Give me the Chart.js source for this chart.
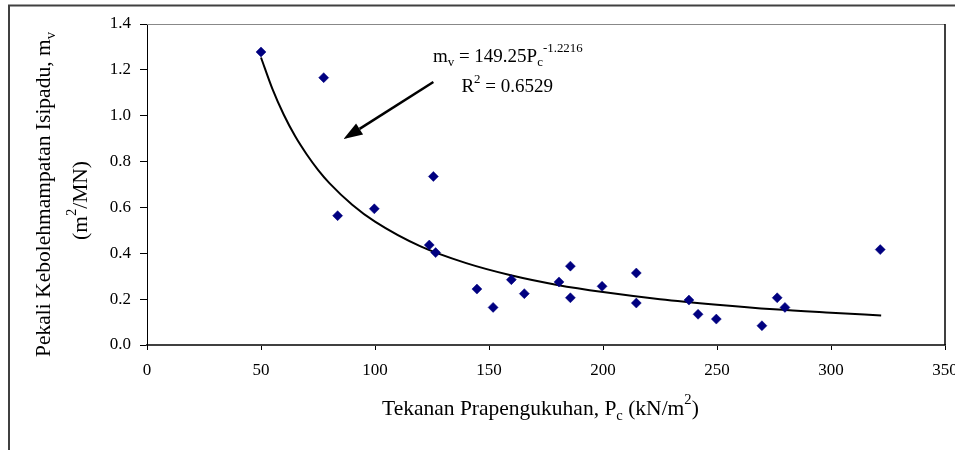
<!DOCTYPE html>
<html>
<head>
<meta charset="utf-8">
<script src="https://cdn.jsdelivr.net/npm/chart.js@4/dist/chart.umd.min.js"></script>
<style>
  body { margin: 0; background: #fff; }
  #wrap { width: 955px; height: 450px; }
</style>
</head>
<body>
<div id="wrap"><canvas id="chrt" width="955" height="450"></canvas></div>
<script>
// data
var pcValues = [50, 77.5, 83.6, 99.7, 123.8, 125.6, 126.6, 144.7, 151.8, 159.8, 165.5, 180.7,
	185.7, 185.7, 199.6, 214.6, 214.6, 237.7, 241.7, 249.7, 269.7, 276.4, 279.8, 321.6];
var mvValues = [1.278, 1.166, 0.564, 0.594, 0.436, 0.735, 0.403, 0.244, 0.164, 0.285, 0.224, 0.275,
	0.344, 0.206, 0.256, 0.314, 0.183, 0.196, 0.134, 0.113, 0.084, 0.206, 0.164, 0.416];

// power trendline
var trendPc = [50, 55, 60, 65, 70, 75, 80, 90, 100, 120, 140, 160, 180, 200, 225, 250, 275, 300, 322];
var trendMv = [1.254, 1.117, 1.004, 0.910, 0.832, 0.764, 0.706, 0.612, 0.538, 0.430, 0.357, 0.303,
	0.262, 0.231, 0.200, 0.176, 0.156, 0.141, 0.129];

var xTicks = [0, 50, 100, 150, 200, 250, 300, 350];
var yTicks = [0, 0.2, 0.4, 0.6, 0.8, 1.0, 1.2, 1.4];

// annotation anchors in data units
var eqPos = { x: 125.4, y: 1.235 };
var r2Pos = { x: 137.9, y: 1.102 };
var arrowFrom = { x: 125.6, y: 1.147 };
var arrowTo = { x: 86.2, y: 0.898 };

var serif = '"Liberation Serif", "Times New Roman", serif';

function drawRuns(ctx, runs, x, y, size) {
	// runs: [text, 0 normal | 1 sub | 2 sup]
	runs.forEach(function (r) {
		var s = r[1] ? size * 0.68 : size;
		ctx.font = s + 'px ' + serif;
		var dy = r[1] === 1 ? size * 0.22 : (r[1] === 2 ? -size * 0.5 : 0);
		ctx.fillText(r[0], x, y + dy);
		x += ctx.measureText(r[0]).width;
	});
	return x;
}

var decor = {
	id: 'decor',
	beforeDraw: function (c) {
		var ctx = c.ctx;
		ctx.save();
		ctx.fillStyle = '#fff';
		ctx.fillRect(0, 0, c.width, c.height);
		ctx.restore();
	},
	afterDraw: function (c) {
		var ctx = c.ctx;
		var a = c.chartArea;
		var xs = c.scales.x, ys = c.scales.y;
		ctx.save();

		// outer frame
		ctx.strokeStyle = '#404040';
		ctx.lineWidth = 2;
		ctx.beginPath();
		ctx.moveTo(9, 450);
		ctx.lineTo(9, 5.5);
		ctx.lineTo(955, 5.5);
		ctx.stroke();

		// plot box top / right
		ctx.strokeStyle = '#888';
		ctx.lineWidth = 1;
		ctx.beginPath();
		ctx.moveTo(a.left, a.top + 0.5);
		ctx.lineTo(a.right, a.top + 0.5);
		ctx.stroke();
		ctx.strokeStyle = '#000';
		ctx.lineWidth = 1.5;
		ctx.beginPath();
		ctx.moveTo(a.right, a.top);
		ctx.lineTo(a.right, a.bottom);
		ctx.stroke();

		ctx.fillStyle = '#000';
		ctx.textBaseline = 'alphabetic';
		ctx.textAlign = 'left';

		// equation + R2
		drawRuns(ctx, [['m', 0], ['v', 1], [' = 149.25P', 0], ['c', 1], ['-1.2216', 2]],
			xs.getPixelForValue(eqPos.x), ys.getPixelForValue(eqPos.y), 19);
		drawRuns(ctx, [['R', 0], ['2', 2], [' = 0.6529', 0]],
			xs.getPixelForValue(r2Pos.x), ys.getPixelForValue(r2Pos.y), 19);

		// arrow
		var x1 = xs.getPixelForValue(arrowFrom.x), y1 = ys.getPixelForValue(arrowFrom.y);
		var x2 = xs.getPixelForValue(arrowTo.x), y2 = ys.getPixelForValue(arrowTo.y);
		var ang = Math.atan2(y2 - y1, x2 - x1);
		var hl = 19, hw = 6.5;
		var bx = x2 - Math.cos(ang) * hl, by = y2 - Math.sin(ang) * hl;
		ctx.strokeStyle = '#000';
		ctx.lineWidth = 2.5;
		ctx.beginPath();
		ctx.moveTo(x1, y1);
		ctx.lineTo(bx, by);
		ctx.stroke();
		ctx.beginPath();
		ctx.moveTo(x2, y2);
		ctx.lineTo(bx + Math.sin(ang) * hw, by - Math.cos(ang) * hw);
		ctx.lineTo(bx - Math.sin(ang) * hw, by + Math.cos(ang) * hw);
		ctx.closePath();
		ctx.fill();

		// x title
		drawRuns(ctx, [['Tekanan Prapengukuhan, P', 0], ['c', 1], [' (kN/m', 0], ['2', 2], [')', 0]], 382, 415, 21.5);

		// y title, two rotated lines
		ctx.save();
		ctx.translate(50, 357);
		ctx.rotate(-Math.PI / 2);
		drawRuns(ctx, [['Pekali Kebolehmampatan Isipadu, m', 0], ['v', 1]], 0, 0, 21.5);
		ctx.restore();
		ctx.save();
		ctx.translate(87, 240);
		ctx.rotate(-Math.PI / 2);
		drawRuns(ctx, [['(m', 0], ['2', 2], ['/MN)', 0]], 0, 0, 21.5);
		ctx.restore();

		ctx.restore();
	}
};

var pts = pcValues.map(function (v, i) { return { x: v, y: mvValues[i] }; });
var trend = trendPc.map(function (v, i) { return { x: v, y: trendMv[i] }; });

new Chart(document.getElementById('chrt').getContext('2d'), {
	type: 'scatter',
	data: {
		datasets: [
			{
				label: 'data',
				data: pts,
				pointStyle: 'rectRot',
				pointRadius: 5,
				pointBackgroundColor: '#000080',
				pointBorderColor: '#000080',
				pointBorderWidth: 0.5,
				order: 0
			},
			{
				label: 'trend',
				data: trend,
				showLine: true,
				borderColor: '#000',
				borderWidth: 2,
				pointRadius: 0,
				cubicInterpolationMode: 'monotone',
				order: 1
			}
		]
	},
	options: {
		responsive: false,
		animation: false,
		layout: { padding: { top: 24, right: 10, left: 0, bottom: 0 } },
		plugins: {
			legend: { display: false },
			tooltip: { enabled: false }
		},
		scales: {
			x: {
				type: 'linear',
				min: 0,
				max: 350,
				afterBuildTicks: function (s) { s.ticks = xTicks.map(function (v) { return { value: v }; }); },
				afterFit: function (s) { s.height = 105; s.paddingRight = 10; s.paddingLeft = 0; },
				ticks: {
					color: '#000',
					font: { family: serif, size: 17 },
					padding: 10,
					maxRotation: 0,
					autoSkip: false
				},
				grid: {
					drawOnChartArea: false,
					tickLength: 5,
					tickColor: '#000',
					tickWidth: 1
				},
				border: { color: '#404040', width: 2 }
			},
			y: {
				min: 0,
				max: 1.4,
				afterBuildTicks: function (s) { s.ticks = yTicks.map(function (v) { return { value: v }; }); },
				afterFit: function (s) { s.width = 147; },
				ticks: {
					color: '#000',
					font: { family: serif, size: 17 },
					padding: 9,
					autoSkip: false,
					callback: function (v) { return v.toFixed(1); }
				},
				grid: {
					drawOnChartArea: false,
					tickLength: 7,
					tickColor: '#000',
					tickWidth: 1
				},
				border: { color: '#000', width: 1 }
			}
		}
	},
	plugins: [decor]
});
</script>
</body>
</html>
